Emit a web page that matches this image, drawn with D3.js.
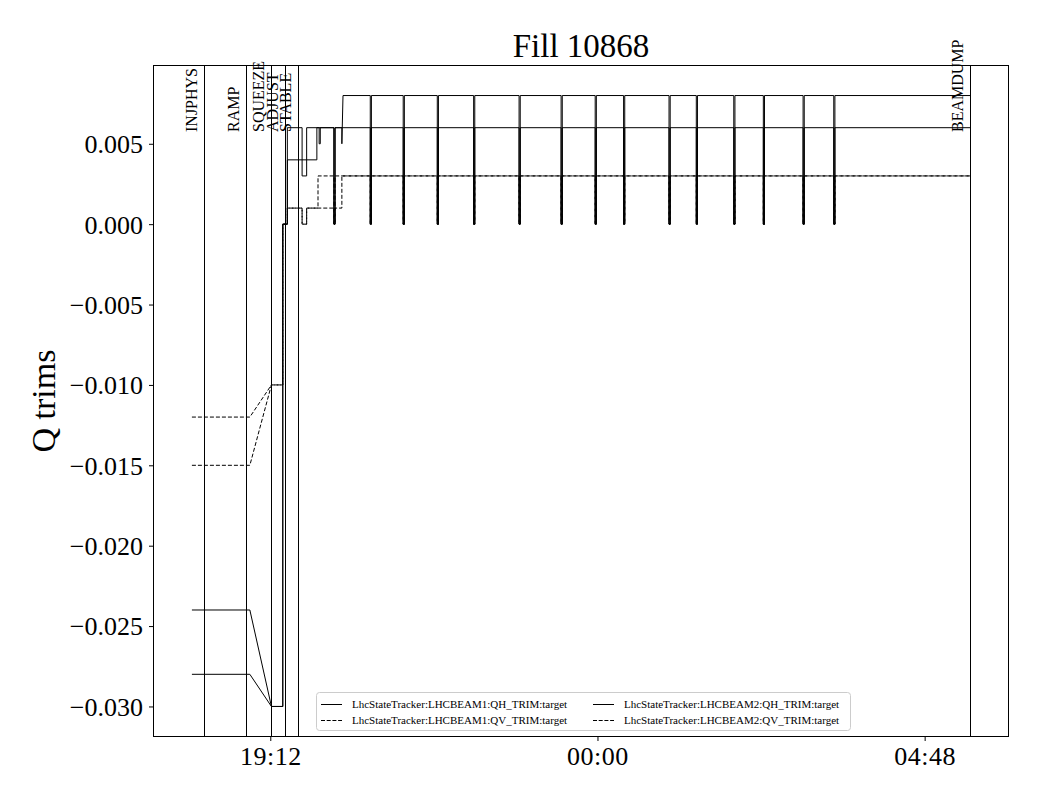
<!DOCTYPE html>
<html><head><meta charset="utf-8">
<script src="https://cdn.jsdelivr.net/npm/d3@7"></script>
<style>body{margin:0;background:#fff} svg{display:block} text{font-family:"Liberation Serif","Times New Roman",serif;fill:#000}</style>
</head><body><svg id="c" width="1040" height="800"></svg>
<script>
const title = "Fill 10868";
const yLabel = "Q trims";
const phaseNames = ["INJPHYS","RAMP","SQUEEZE","ADJUST","STABLE","BEAMDUMP"];
const phaseTimes = ["18:14","18:51","19:13","19:25","19:36","05:28"];
const xTickTimes = ["19:12","00:00","04:48"];
const xTickLabels = ["19:12","00:00","04:48"];
const yTickValues = [-0.030,-0.025,-0.020,-0.015,-0.010,-0.005,0.000,0.005];
const spikeTimes = ["20:08","20:40","21:09","21:39","22:11","22:51","23:28","23:58","00:23","01:03","01:27","02:00","02:26","03:01","03:28"];
const seriesNames = ["LhcStateTracker:LHCBEAM1:QH_TRIM:target","LhcStateTracker:LHCBEAM1:QV_TRIM:target","LhcStateTracker:LHCBEAM2:QH_TRIM:target","LhcStateTracker:LHCBEAM2:QV_TRIM:target"];
const seriesDashed = [false,true,false,true];
// [time, value] knots (vertical steps as repeated times)
const b1qh = [["18:03",-0.024],["18:54",-0.024],["19:13",-0.030],["19:23",-0.030],["19:23",0.000],["19:27",0.000],["19:27",0.006],["19:40",0.006],["19:40",0.003],["19:44",0.003],["19:44",0.006],["20:15",0.006],["20:15",0.005],["20:16",0.008],["05:28",0.008]];
const b1qv = [["18:03",-0.012],["18:54",-0.012],["19:13",-0.010],["19:23",-0.010],["19:23",0.000],["19:27",0.000],["19:27",0.001],["19:40",0.001],["19:40",0.000],["19:44",0.000],["19:44",0.001],["19:54",0.001],["19:54",0.003],["05:28",0.003]];
const b2qh = [["18:03",-0.028],["18:54",-0.028],["19:13",-0.030],["19:23",-0.030],["19:23",0.000],["19:27",0.000],["19:27",0.004],["19:53",0.004],["19:53",0.006],["19:55",0.006],["19:55",0.005],["19:56",0.005],["19:56",0.006],["05:28",0.006]];
const b2qv = [["18:03",-0.015],["18:54",-0.015],["19:13",-0.010],["19:23",-0.010],["19:23",0.000],["19:27",0.000],["19:27",0.001],["19:40",0.001],["19:40",0.000],["19:44",0.000],["19:44",0.001],["20:15",0.001],["20:15",0.003],["05:28",0.003]];

const base = new Date(2025,6,1);
function pt(s){const p=s.split(":").map(Number);let h=p[0];const d=new Date(base);if(h<12)d.setDate(d.getDate()+1);d.setHours(h,p[1],p[2]||0,0);return d;}
const pulse = 60*1000;
function build(knots){
  const kn = knots.map((k,i)=>({t:pt(k[0]),v:k[1],o:0,i}));
  const out = kn.slice();
  spikeTimes.forEach((s,j)=>{
    const t=pt(s);
    let v=0; for(const p of kn){ if(p.t<=t) v=p.v; }
    const t2=new Date(+t+pulse);
    out.push({t,v,o:1,i:1000+j},{t,v:0,o:2,i:1000+j},{t:t2,v:0,o:3,i:1000+j},{t:t2,v,o:4,i:1000+j});
  });
  out.sort((a,b)=>(a.t-b.t)||(a.i-b.i)||(a.o-b.o));
  return out;
}
const seriesData = [b1qh,b1qv,b2qh,b2qv].map(build);

const L=153,R=1009,T=65,B=737;
const allT = seriesData.flat().map(d=>d.t);
const t0=d3.min(allT), t1=d3.max(allT), span=t1-t0;
const x = d3.scaleTime().domain([new Date(+t0-0.05*span), new Date(+t1+0.05*span)]).range([L,R]);
const vmin=-0.030, vmax=0.008, pad=0.05*(vmax-vmin);
const y = d3.scaleLinear().domain([vmin-pad,vmax+pad]).range([B,T]);

const svg = d3.select("#c");
const g = svg.append("g");
g.append("clipPath").attr("id","clip").append("rect").attr("x",L).attr("y",T).attr("width",R-L).attr("height",B-T);

const line = d3.line().x(d=>x(d.t)).y(d=>y(d.v));
const plot = g.append("g").attr("clip-path","url(#clip)");
seriesData.forEach((d,i)=>{
  plot.append("path").datum(d).attr("d",line).attr("fill","none").attr("stroke","#000").attr("stroke-width",1)
    .attr("stroke-dasharray",seriesDashed[i]?"4,2":null);
});

// phase lines
phaseTimes.forEach((s,i)=>{
  const px = Math.round(x(pt(s)))+0.5;
  g.append("line").attr("x1",px).attr("x2",px).attr("y1",T).attr("y2",B).attr("stroke","#000").attr("stroke-width",1);
  g.append("text").attr("transform",`translate(${px-7.5},132) rotate(-90)`).attr("font-size",16).text(phaseNames[i]);
});

// axes
const xAxis = d3.axisBottom(x).tickValues(xTickTimes.map(pt)).tickFormat((d,i)=>xTickLabels[i]).tickSize(4).tickPadding(6);
const xa = g.append("g").attr("transform",`translate(0,${B})`).call(xAxis);
xa.select(".domain").remove();
xa.selectAll("text").attr("font-size",26).attr("font-family","Liberation Serif").attr("fill","#000").attr("letter-spacing","0.5px");
const yAxis = d3.axisLeft(y).tickValues(yTickValues).tickFormat(d=>d3.format(".3f")(d).replace("-","\u2212")).tickSize(4).tickPadding(6);
const ya = g.append("g").attr("transform",`translate(${L},0)`).call(yAxis);
ya.select(".domain").remove();
ya.selectAll("text").attr("font-size",26).attr("font-family","Liberation Serif").attr("fill","#000").attr("dy","0.34em");
g.append("rect").attr("x",L+0.5).attr("y",T+0.5).attr("width",R-L-1).attr("height",B-T-1).attr("fill","none").attr("stroke","#000");

g.append("text").attr("x",(L+R)/2).attr("y",57).attr("text-anchor","middle").attr("font-size",33).text(title);
g.append("text").attr("transform",`translate(55,${(T+B)/2}) rotate(-90)`).attr("text-anchor","middle").attr("font-size",34).text(yLabel);

// legend
const lg = g.append("g");
lg.append("rect").attr("x",316.5).attr("y",692.5).attr("width",534).attr("height",38).attr("rx",3).attr("fill","#fff").attr("stroke","#ccc");
seriesNames.forEach((n,i)=>{
  const col=Math.floor(i/2), row=i%2;
  const lx = col===0?321:593, ly = row===0?704.5:720.5;
  lg.append("line").attr("x1",lx).attr("x2",lx+21).attr("y1",ly).attr("y2",ly).attr("stroke","#000").attr("stroke-width",1).attr("stroke-dasharray",seriesDashed[i]?"4,1.7":null);
  lg.append("text").attr("x",lx+31).attr("y",ly+3.8).attr("font-size",11).text(n);
});
</script></body></html>
